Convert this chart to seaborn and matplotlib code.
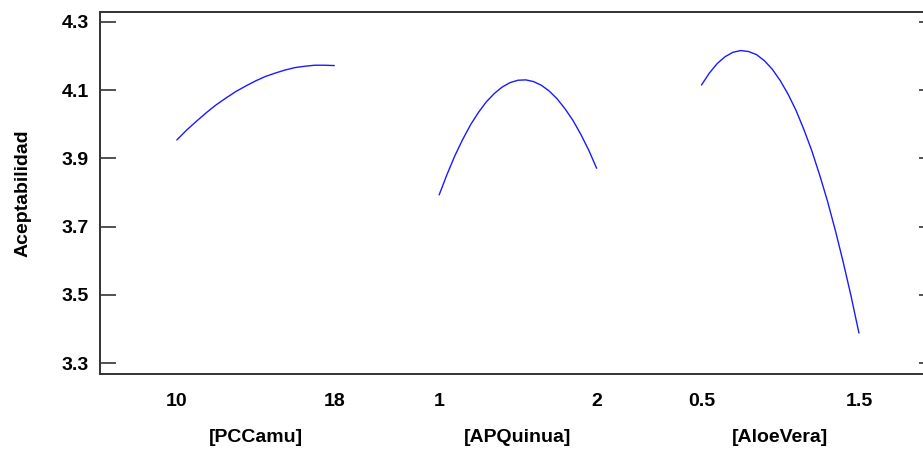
import numpy as np
import pandas as pd
import matplotlib
matplotlib.use("Agg")
import matplotlib.pyplot as plt
import seaborn as sns

# Main effects on Aceptabilidad (each factor varied, others held at center)
pccamu_x = [10, 10.5, 11, 11.5, 12, 12.5, 13, 13.5, 14, 14.5, 15, 15.5, 16, 16.5, 17, 17.5, 18]
pccamu_y = [3.954, 3.983, 4.009, 4.034, 4.057, 4.077, 4.096, 4.112, 4.127,
            4.140, 4.150, 4.159, 4.166, 4.170, 4.173, 4.173, 4.172]

apquinua_x = [1.0, 1.05, 1.1, 1.15, 1.2, 1.25, 1.3, 1.35, 1.4, 1.45, 1.5,
              1.55, 1.6, 1.65, 1.7, 1.75, 1.8, 1.85, 1.9, 1.95, 2.0]
apquinua_y = [3.793, 3.853, 3.908, 3.956, 3.999, 4.035, 4.066, 4.090, 4.109, 4.122, 4.129,
              4.130, 4.125, 4.114, 4.097, 4.074, 4.045, 4.011, 3.970, 3.924, 3.871]

aloevera_x = [0.5, 0.55, 0.6, 0.65, 0.7, 0.75, 0.8, 0.85, 0.9, 0.95, 1.0,
              1.05, 1.1, 1.15, 1.2, 1.25, 1.3, 1.35, 1.4, 1.45, 1.5]
aloevera_y = [4.115, 4.150, 4.178, 4.198, 4.211, 4.216, 4.213, 4.204, 4.186, 4.161, 4.128,
              4.088, 4.041, 3.985, 3.923, 3.852, 3.775, 3.689, 3.596, 3.496, 3.388]

factor_names = ["[PCCamu]", "[APQuinua]", "[AloeVera]"]
factor_ticks = [[10, 18], [1, 2], [0.5, 1.5]]
factor_ticklabels = [["10", "18"], ["1", "2"], ["0.5", "1.5"]]
y_ticks = [3.3, 3.5, 3.7, 3.9, 4.1, 4.3]
y_label = "Aceptabilidad"

# Each factor occupies one unit-wide panel along a shared axis
panel_step = 1.666

sns.set_style("ticks")
plt.rcParams["font.family"] = ["Liberation Sans", "DejaVu Sans"]
plt.rcParams["font.weight"] = "bold"
plt.rcParams["text.color"] = "black"
plt.rcParams["axes.labelcolor"] = "black"
FS = 14

series = [(pccamu_x, pccamu_y), (apquinua_x, apquinua_y), (aloevera_x, aloevera_y)]
frames = []
for i, ((xs, ys), name, ticks) in enumerate(zip(series, factor_names, factor_ticks)):
    lo, hi = ticks
    xs = np.asarray(xs, dtype=float)
    frames.append(pd.DataFrame({
        "factor": name,
        "level": xs,
        "pos": i * panel_step + (xs - lo) / (hi - lo),
        "Aceptabilidad": ys,
    }))
df = pd.concat(frames, ignore_index=True)

W, H = 923, 451
fig = plt.figure(figsize=(W / 100, H / 100), dpi=100)
ax = fig.add_axes([100 / W, 1 - 374 / H, 835 / W, 362 / H])

sns.lineplot(data=df, x="pos", y="Aceptabilidad", hue="factor",
             palette=["#1a1aff"] * 3, estimator=None, sort=False,
             linewidth=1.0, legend=False, ax=ax)

ax.set_xlim(-0.488, 4.815)
ax.set_ylim(3.268, 4.329)

# x ticks: each factor's low/high level at its panel's ends
xt, xl = [], []
for i, (ticks, labels) in enumerate(zip(factor_ticks, factor_ticklabels)):
    lo, hi = ticks
    for t, lab in zip(ticks, labels):
        xt.append(i * panel_step + (t - lo) / (hi - lo))
        xl.append(lab)
ax.set_xticks(xt)
ax.set_xticklabels(xl)
ax.set_yticks(y_ticks)
ax.set_yticklabels([f"{v:.1f}" for v in y_ticks])

ax.tick_params(axis="x", length=0, pad=14, labelsize=FS, labelcolor="black")
ax.tick_params(axis="y", direction="in", length=11.5, width=1.1, color="#222222",
               left=True, right=True, pad=8, labelsize=FS, labelcolor="black")

for side in ["left", "bottom", "top", "right"]:
    ax.spines[side].set_linewidth(1.4)
    ax.spines[side].set_color("#333333")

ax.set_xlabel("")
ax.set_ylabel(y_label, fontsize=FS, fontweight="bold", va="center", color="black")
ax.yaxis.set_label_coords(-77 / 835, 0.5)

# factor names under each panel
trans = matplotlib.transforms.blended_transform_factory(ax.transData, fig.transFigure)
for i, name in enumerate(factor_names):
    ax.text(i * panel_step + 0.5, 1 - 437 / H, name, transform=trans,
            ha="center", va="center", fontsize=FS, fontweight="bold", color="black")

fig.savefig("out.png", dpi=100)
